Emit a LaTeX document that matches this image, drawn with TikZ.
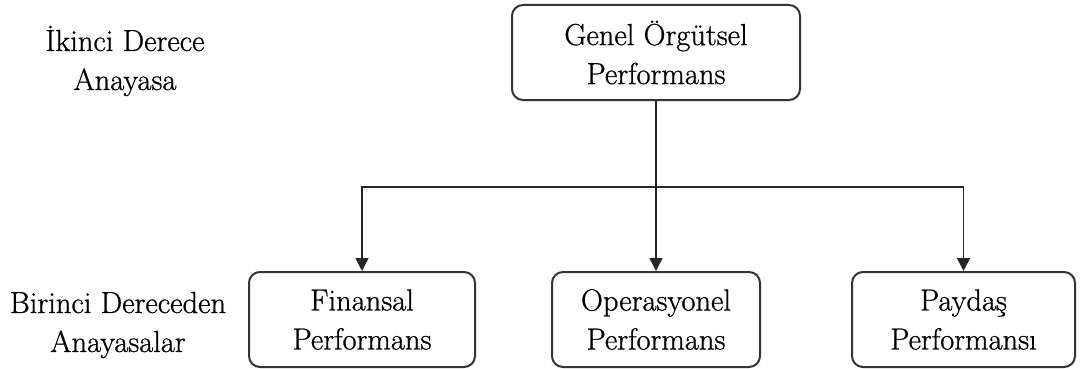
\documentclass[tikz,border=0pt]{standalone}
\usepackage{fontspec}
\newfontfamily\lmr{Latin Modern Roman}[FakeBold=0.8]
\usetikzlibrary{arrows.meta}
\begin{document}
\begin{tikzpicture}[x=1pt,y=-1pt,
  font=\lmr\fontsize{30.5}{39}\selectfont,
  box/.style={draw=black!80, line width=2pt, rounded corners=11pt, align=center, inner sep=0pt, minimum height=95pt},
  lbl/.style={align=center, inner sep=0pt},
  arr/.style={draw=black!85, line width=1.5pt, -{Triangle[length=13pt,width=13pt]}}]
\fill[white] (0,0) rectangle (1081,369);
\useasboundingbox (0,0) rectangle (1081,369);
\node[box, minimum width=288pt] (top) at (656,52.5) {Genel Örgütsel\\Performans};
\node[box, minimum width=208pt] (op) at (656,319.5) {Operasyonel\\Performans};
\node[box, minimum width=226pt] (fin) at (362,319.5) {Finansal\\Performans};
\node[box, minimum width=223pt] (pay) at (963.5,319.5) {Paydaş\\Performansı};
\node[lbl] (l1) at (125,61) {İkinci Derece\\Anayasa};
\node[lbl] (l2) at (118,325) {Birinci Dereceden\\Anayasalar};
\coordinate (j) at (top.south |- 0,187);
\draw[arr] (top.south) -- (op.north);
\draw[arr] (j) -| (fin.north);
\draw[arr] (j) -| (pay.north);
\end{tikzpicture}
\end{document}
